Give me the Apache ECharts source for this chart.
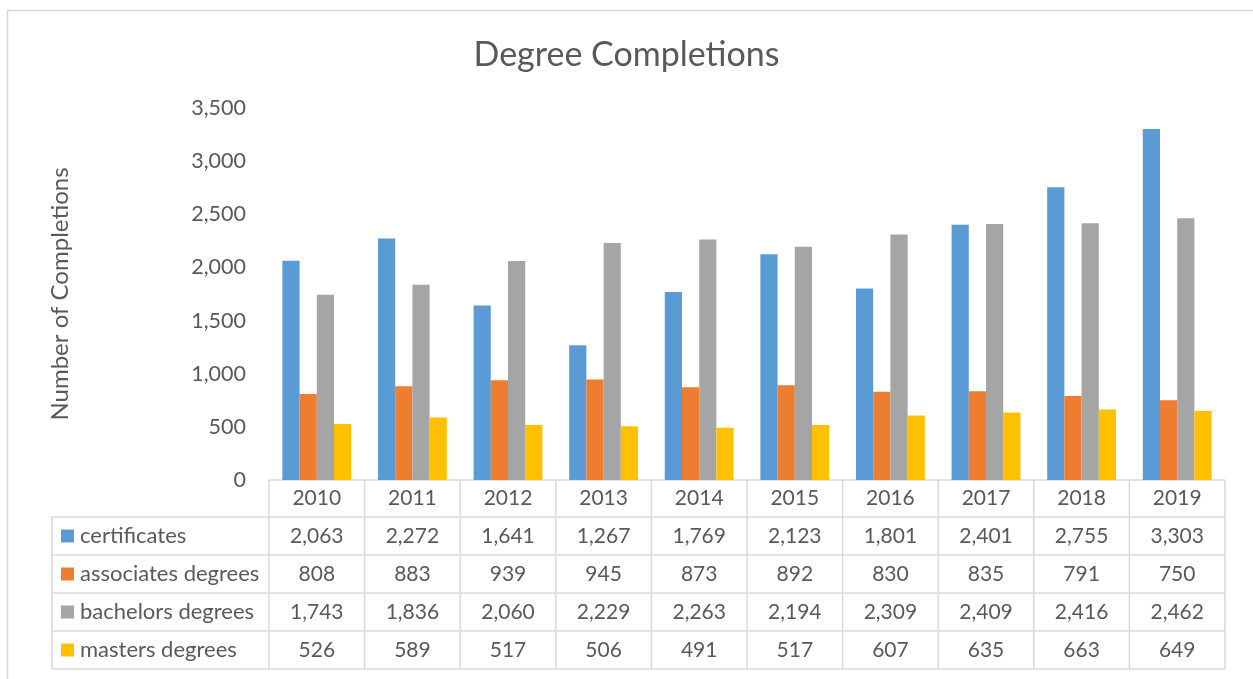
<!DOCTYPE html>
<html>
<head>
<meta charset="utf-8">
<script src="https://cdn.jsdelivr.net/npm/echarts@6/dist/echarts.min.js"></script>
<style>
  html, body { margin: 0; padding: 0; background: #fff; }
  #chart { width: 1253px; height: 679px; }
</style>
</head>
<body>
<div id="chart"></div>
<script>
// Completions by award type, 2010–2019
const years = ['2010', '2011', '2012', '2013', '2014', '2015', '2016', '2017', '2018', '2019'];
const seriesNames = ['certificates', 'associates degrees', 'bachelors degrees', 'masters degrees'];
const certificates = [2063, 2272, 1641, 1267, 1769, 2123, 1801, 2401, 2755, 3303];
const associates = [808, 883, 939, 945, 873, 892, 830, 835, 791, 750];
const bachelors = [1743, 1836, 2060, 2229, 2263, 2194, 2309, 2409, 2416, 2462];
const masters = [526, 589, 517, 506, 491, 517, 607, 635, 663, 649];
const seriesValues = [certificates, associates, bachelors, masters];
const colors = ['#5B9BD5', '#ED7D31', '#A5A5A5', '#FFC000'];

const FONT = 'Lato';
const TEXT = '#595959';
const LINE = '#D9D9D9';

// plot area geometry (the data table hangs below the category axis)
const W = 1253, H = 679;
const gridLeft = 269, gridRight = 28, gridTop = 108, gridBottom = 199;
const plotRight = W - gridRight;
const axisY = H - gridBottom;
const rowH = 38;
const tableLeft = 52;
const colW = (plotRight - gridLeft) / years.length;
const fmt = v => v.toLocaleString('en-US');
const numFont = '21px ' + FONT;
const nameFont = '22px ' + FONT;

const graphics = [];
// outer chart frame
graphics.push({
  type: 'rect', silent: true,
  shape: { x: 7.5, y: 10.5, width: 1400, height: 800 },
  style: { fill: 'none', stroke: LINE, lineWidth: 1.5 }
});

// data table: horizontal rules
const headerBottom = axisY + 37;
const tableBottom = headerBottom + rowH * seriesNames.length;
graphics.push({ type: 'line', silent: true,
  shape: { x1: gridLeft, y1: axisY, x2: plotRight, y2: axisY },
  style: { stroke: LINE, lineWidth: 1.5 } });
for (let r = 0; r <= seriesNames.length; r++) {
  const y = headerBottom + r * rowH;
  graphics.push({ type: 'line', silent: true,
    shape: { x1: tableLeft, y1: y, x2: plotRight, y2: y },
    style: { stroke: LINE, lineWidth: 1.5 } });
}
// vertical rules
graphics.push({ type: 'line', silent: true,
  shape: { x1: tableLeft, y1: headerBottom, x2: tableLeft, y2: tableBottom },
  style: { stroke: LINE, lineWidth: 1.5 } });
for (let c = 0; c <= years.length; c++) {
  const x = gridLeft + c * colW;
  graphics.push({ type: 'line', silent: true,
    shape: { x1: x, y1: axisY, x2: x, y2: tableBottom },
    style: { stroke: LINE, lineWidth: 1.5 } });
}
// header years
years.forEach((yr, c) => {
  graphics.push({ type: 'text', silent: true,
    style: { text: yr, x: gridLeft + (c + 0.5) * colW, y: axisY + 18.5,
      align: 'center', verticalAlign: 'middle', fill: TEXT, font: numFont } });
});
// rows: legend key, series name, values
seriesNames.forEach((name, r) => {
  const cy = headerBottom + (r + 0.5) * rowH;
  graphics.push({ type: 'rect', silent: true,
    shape: { x: 61, y: cy - 6.5, width: 13, height: 13 },
    style: { fill: colors[r] } });
  graphics.push({ type: 'text', silent: true,
    style: { text: name, x: 80, y: cy, align: 'left', verticalAlign: 'middle',
      fill: TEXT, font: nameFont } });
  seriesValues[r].forEach((v, c) => {
    graphics.push({ type: 'text', silent: true,
      style: { text: fmt(v), x: gridLeft + (c + 0.5) * colW, y: cy,
        align: 'center', verticalAlign: 'middle', fill: TEXT, font: numFont } });
  });
});

const chart = echarts.init(document.getElementById('chart'), null, { renderer: 'canvas' });
chart.setOption({
  backgroundColor: '#fff',
  animation: false,
  textStyle: { fontFamily: FONT },
  title: {
    text: 'Degree Completions',
    left: 'center', top: 33,
    textStyle: { fontFamily: FONT, fontSize: 34, fontWeight: 'normal', color: TEXT }
  },
  grid: { left: gridLeft, right: gridRight, top: gridTop, bottom: gridBottom, containLabel: false },
  xAxis: {
    type: 'category',
    data: years,
    axisLine: { show: false },
    axisTick: { show: false },
    axisLabel: { show: false }
  },
  yAxis: {
    type: 'value',
    min: 0, max: 3500, interval: 500,
    name: 'Number of Completions',
    nameLocation: 'middle',
    nameGap: 197,
    nameRotate: 90,
    nameTextStyle: { fontFamily: FONT, fontSize: 24, color: TEXT },
    axisLine: { show: false },
    axisTick: { show: false },
    splitLine: { show: false },
    axisLabel: {
      margin: 23,
      fontFamily: FONT, fontSize: 21.5, color: TEXT,
      formatter: v => fmt(v)
    }
  },
  series: seriesNames.map((name, i) => ({
    name,
    type: 'bar',
    data: seriesValues[i],
    barGap: '0%',
    barCategoryGap: '28%',
    itemStyle: { color: colors[i] }
  })),
  graphic: graphics
});
</script>
</body>
</html>
